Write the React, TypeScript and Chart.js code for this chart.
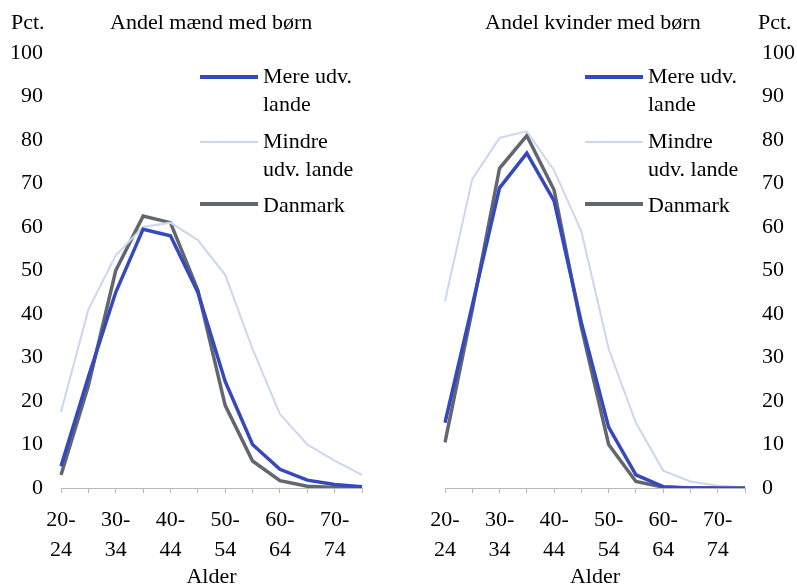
import React, { useEffect, useRef } from 'react';
import { Chart, registerables } from 'chart.js';

Chart.register(...registerables);

// ---------- data ----------
const AGE_GROUPS = ['20-24', '25-29', '30-34', '35-39', '40-44', '45-49', '50-54', '55-59', '60-64', '65-69', '70-74', '75-79'];

const MEN_MORE_DEVELOPED = [5, 25.5, 45, 59.5, 58, 45, 24.5, 10, 4.3, 1.8, 0.8, 0.3];
const MEN_LESS_DEVELOPED = [17.5, 41, 53.5, 60, 61, 57, 49, 32, 17, 10, 6.3, 3];
const MEN_DENMARK = [3, 23.5, 50, 62.5, 61, 45.5, 19, 6.2, 1.7, 0.4, 0.1, 0];

const WOMEN_MORE_DEVELOPED = [15, 42, 69, 77, 66, 38, 14, 3, 0.3, 0, 0, 0];
const WOMEN_LESS_DEVELOPED = [43, 71, 80.5, 82, 73, 59, 32, 15, 4, 1.5, 0.5, 0.2];
const WOMEN_DENMARK = [10.5, 41, 73.5, 81, 68.5, 37, 10, 1.5, 0.2, 0, 0, 0];

const SERIES_NAMES = ['Mere udv. lande', 'Mindre udv. lande', 'Danmark'];
const LEGEND_LINES = [['Mere udv.', 'lande'], ['Mindre', 'udv. lande'], ['Danmark']];
const PANEL_TITLES = ['Andel mænd med børn', 'Andel kvinder med børn'];
const UNIT_LABEL = 'Pct.';
const X_TITLE = 'Alder';
const Y_MIN = 0;
const Y_MAX = 100;
const Y_STEP = 10;

// ---------- styles ----------
const SERIES_COLORS = ['#3549bd', '#cbd7ef', '#62676f'];
const SERIES_WIDTHS = [3.5, 2, 3.5];
const FONT_FAMILY = '"Liberation Serif", "Times New Roman", serif';
const AXIS_GREY = '#b8b8b8';

type PanelProps = {
  left: number;
  width: number;
  side: 'left' | 'right';
  values: number[][];
};

function Panel({ left, width, side, values }: PanelProps) {
  const ref = useRef<HTMLCanvasElement | null>(null);

  useEffect(() => {
    if (!ref.current) return;
    const isLeft = side === 'left';
    const chart = new Chart(ref.current, {
      type: 'line',
      data: {
        labels: AGE_GROUPS,
        datasets: SERIES_NAMES.map((name, i) => ({
          label: name,
          data: values[i],
          borderColor: SERIES_COLORS[i],
          backgroundColor: SERIES_COLORS[i],
          borderWidth: SERIES_WIDTHS[i],
          pointRadius: 0,
          tension: 0,
          fill: false,
        })),
      },
      options: {
        responsive: false,
        animation: false,
        devicePixelRatio: 1,
        layout: {
          padding: isLeft
            ? { left: 0, right: 38, top: 53, bottom: 0 }
            : { left: 45, right: 0, top: 53, bottom: 0 },
        },
        plugins: {
          legend: { display: false },
          tooltip: { enabled: false },
          title: { display: false },
        },
        scales: {
          x: {
            type: 'category',
            offset: false,
            grid: {
              display: true,
              drawOnChartArea: false,
              drawTicks: true,
              tickLength: 5,
              color: AXIS_GREY,
            },
            border: { display: true, color: AXIS_GREY, width: 1 },
            ticks: {
              autoSkip: false,
              maxRotation: 0,
              minRotation: 0,
              padding: 12,
              color: '#000',
              font: { family: FONT_FAMILY, size: 22, lineHeight: 30 / 22 },
              callback: (_v: any, idx: number) => {
                if (idx % 2 !== 0) return '';
                const parts = AGE_GROUPS[idx].split('-');
                return [parts[0] + '-', parts[1]];
              },
            },
            title: {
              display: true,
              text: X_TITLE,
              color: '#000',
              font: { family: FONT_FAMILY, size: 22 },
              padding: { top: 0, bottom: 10 },
            },
            afterFit: (scale: any) => {
              scale.height = 112;
            },
          },
          y: {
            position: isLeft ? 'left' : 'right',
            min: Y_MIN,
            max: Y_MAX,
            grid: { display: false, drawTicks: false },
            border: { display: false },
            ticks: {
              stepSize: Y_STEP,
              padding: isLeft ? 18 : 17,
              color: '#000',
              font: { family: FONT_FAMILY, size: 22 },
            },
            afterFit: (scale: any) => {
              scale.width = isLeft ? 61 : 52;
            },
          },
        },
      } as any,
    });
    return () => chart.destroy();
  }, [side, values]);

  return (
    <canvas
      ref={ref}
      width={width}
      height={600}
      style={{ position: 'absolute', left, top: 0, width, height: 600 }}
    />
  );
}

const textStyle: React.CSSProperties = {
  position: 'absolute',
  fontFamily: FONT_FAMILY,
  fontSize: 22,
  lineHeight: '28px',
  color: '#000',
  whiteSpace: 'nowrap',
  margin: 0,
};

const LEGEND_LINE_Y = [77, 142, 204];
const LEGEND_TEXT_TOP = [62, 127, 191];

function Legend({ lineLeft, textLeft }: { lineLeft: number; textLeft: number }) {
  return (
    <>
      {SERIES_NAMES.map((name, i) => (
        <React.Fragment key={name}>
          <div
            style={{
              position: 'absolute',
              left: lineLeft,
              top: LEGEND_LINE_Y[i] - SERIES_WIDTHS[i] / 2,
              width: 58,
              height: SERIES_WIDTHS[i],
              background: SERIES_COLORS[i],
            }}
          />
          <div style={{ ...textStyle, left: textLeft, top: LEGEND_TEXT_TOP[i] }}>
            {LEGEND_LINES[i].map((line, j) => (
              <div key={j}>{line}</div>
            ))}
          </div>
        </React.Fragment>
      ))}
    </>
  );
}

export default function App() {
  return (
    <div
      style={{
        position: 'absolute',
        left: 0,
        top: 0,
        width: 797,
        height: 585,
        overflow: 'hidden',
        background: '#fff',
      }}
    >
      <Panel left={0} width={400} side="left" values={[MEN_MORE_DEVELOPED, MEN_LESS_DEVELOPED, MEN_DENMARK]} />
      <Panel left={400} width={397} side="right" values={[WOMEN_MORE_DEVELOPED, WOMEN_LESS_DEVELOPED, WOMEN_DENMARK]} />

      <div style={{ ...textStyle, left: 11, top: 8 }}>{UNIT_LABEL}</div>
      <div style={{ ...textStyle, left: 110, top: 8 }}>{PANEL_TITLES[0]}</div>
      <div style={{ ...textStyle, left: 485, top: 8 }}>{PANEL_TITLES[1]}</div>
      <div style={{ ...textStyle, left: 758, top: 8 }}>{UNIT_LABEL}</div>

      <Legend lineLeft={200} textLeft={263} />
      <Legend lineLeft={585} textLeft={648} />
    </div>
  );
}
